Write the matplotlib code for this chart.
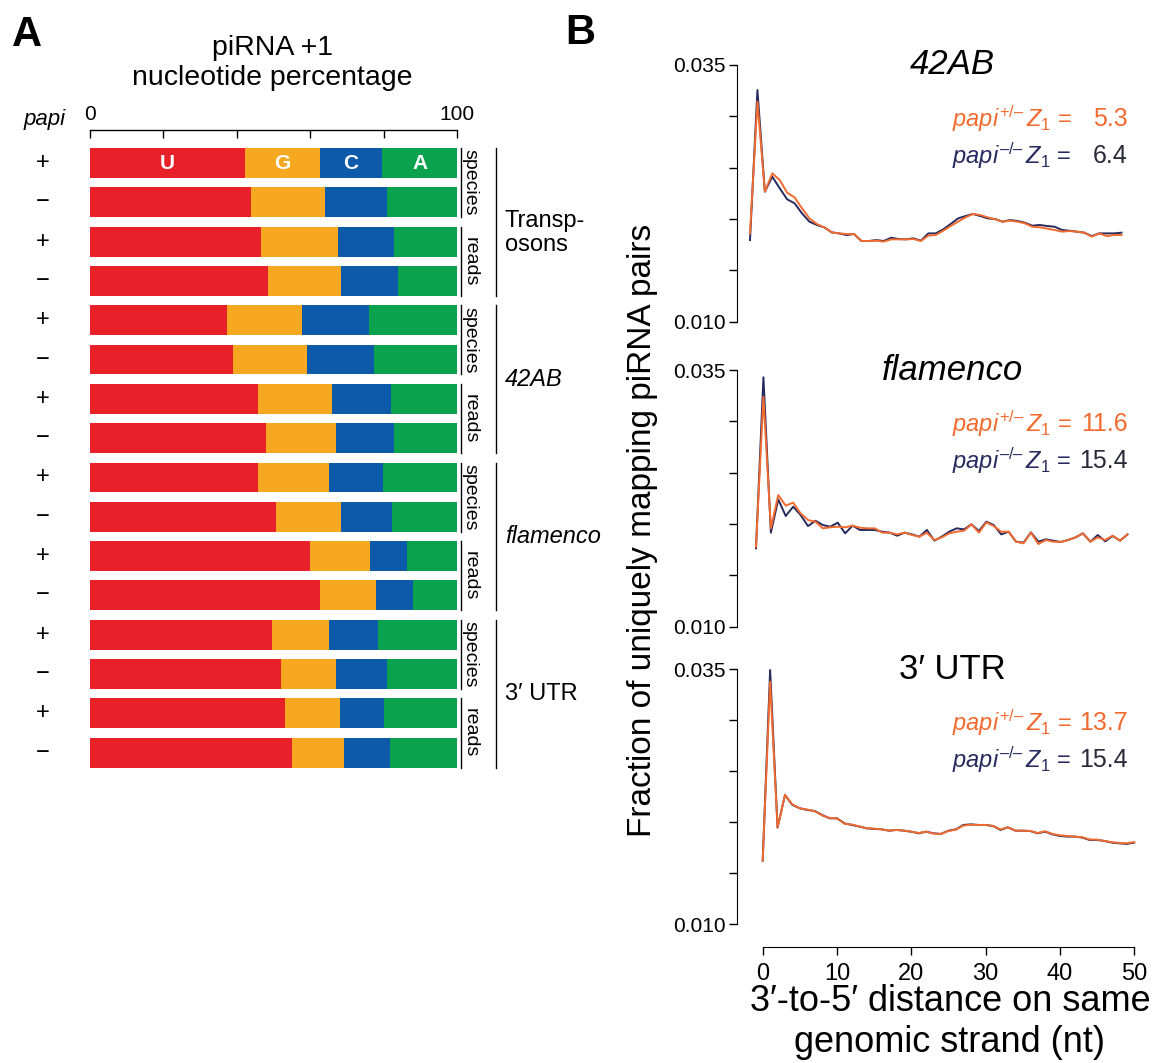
import matplotlib
matplotlib.use("Agg")
import matplotlib.pyplot as plt
import numpy as np

plt.rcParams['font.family'] = ['Liberation Sans', 'DejaVu Sans']
plt.rcParams['mathtext.fontset'] = 'custom'
plt.rcParams['mathtext.rm'] = 'Liberation Sans'
plt.rcParams['mathtext.it'] = 'Liberation Sans:italic'
NARROW = ['Liberation Sans Narrow', 'DejaVu Sans Condensed', 'Liberation Sans']

# ---- panel A data: piRNA +1 nucleotide percentage (U, G, C, A) ----
genotype = ['+', '−'] * 8
read_kind = ['species', 'reads'] * 4
groups = ['Transp-\nosons', '42AB', 'flamenco', '3′ UTR']
group_italic = [False, True, True, False]
u_pct = [42.3, 44.0, 46.6, 48.6, 37.4, 39.1, 45.8, 47.9, 45.8, 50.8, 59.9, 62.7, 49.7, 52.1, 53.1, 55.0]
g_pct = [20.4, 20.1, 20.9, 19.7, 20.4, 20.1, 20.1, 19.0, 19.2, 17.6, 16.4, 15.3, 15.5, 14.9, 15.0, 14.1]
c_pct = [16.9, 16.9, 15.2, 15.7, 18.1, 18.3, 16.0, 16.0, 14.8, 13.8, 10.1, 10.0, 13.2, 13.8, 11.9, 12.6]
a_pct = [20.4, 19.0, 17.3, 16.0, 24.1, 22.5, 18.1, 17.1, 20.2, 17.8, 13.6, 12.0, 21.6, 19.2, 20.0, 18.3]
nuc_labels = ['U', 'G', 'C', 'A']
nuc_colors = ['#e8202a', '#f6a821', '#0c5aa9', '#0aa24c']

# ---- panel B data: fraction of uniquely mapping piRNA pairs vs distance ----
distance = list(range(0, 51))
ab42_het = [0.0186, 0.03143, 0.02266, 0.02445, 0.0238, 0.02256, 0.02211, 0.02104, 0.02006, 0.01951,
            0.01919, 0.0187, 0.0186, 0.01854, 0.01854, 0.01786, 0.01786, 0.01789, 0.0178, 0.01802,
            0.01802, 0.01802, 0.01805, 0.01786, 0.01838, 0.01844, 0.01886, 0.01932, 0.01974, 0.02016,
            0.02049, 0.02039, 0.02016, 0.01997, 0.01974, 0.01984, 0.01974, 0.01958, 0.01925, 0.01919,
            0.01906, 0.01893, 0.01877, 0.01883, 0.01877, 0.01867, 0.01828, 0.0186, 0.01834, 0.01844, 0.01844]
ab42_mut = [0.01795, 0.03256, 0.02266, 0.02412, 0.02299, 0.02192, 0.02153, 0.02055, 0.01974, 0.01942,
            0.01919, 0.0187, 0.0186, 0.01844, 0.01854, 0.01786, 0.01786, 0.01795, 0.01786, 0.01818,
            0.01805, 0.01802, 0.01812, 0.01789, 0.0186, 0.0186, 0.01899, 0.01951, 0.02006, 0.02029,
            0.02049, 0.02029, 0.02006, 0.0200, 0.01974, 0.0199, 0.01981, 0.01964, 0.01935, 0.01942,
            0.01932, 0.01925, 0.01893, 0.01886, 0.01877, 0.01867, 0.01834, 0.0186, 0.0186, 0.0186, 0.01867]
flam_het = [0.0178, 0.0324, 0.01958, 0.02282, 0.02179, 0.02208, 0.02104, 0.02039, 0.02023, 0.01958,
            0.01968, 0.01974, 0.01968, 0.01984, 0.01964, 0.01958, 0.01958, 0.01916, 0.01916, 0.01899,
            0.01916, 0.01893, 0.01877, 0.01916, 0.01844, 0.0187, 0.01909, 0.01925, 0.01935, 0.01997,
            0.01916, 0.02016, 0.0198, 0.01925, 0.01925, 0.01828, 0.01812, 0.01916, 0.01805, 0.01844,
            0.01828, 0.01825, 0.01844, 0.0187, 0.01909, 0.01828, 0.0187, 0.01844, 0.01886, 0.01838, 0.01899]
flam_mut = [0.01763, 0.03429, 0.01916, 0.0224, 0.02078, 0.02169, 0.02088, 0.0198, 0.02032, 0.0199,
            0.01974, 0.02013, 0.01909, 0.01984, 0.01942, 0.01942, 0.01942, 0.01925, 0.01916, 0.01886,
            0.01916, 0.01899, 0.01877, 0.01942, 0.01838, 0.01877, 0.01925, 0.01958, 0.01948, 0.01997,
            0.01932, 0.02023, 0.0199, 0.01899, 0.01925, 0.01828, 0.01818, 0.01919, 0.01828, 0.01851,
            0.01838, 0.01825, 0.01844, 0.0187, 0.01909, 0.01828, 0.01893, 0.01831, 0.01883, 0.01838, 0.01899]
utr_het = [0.01624, 0.03379, 0.01948, 0.02268, 0.02175, 0.02137, 0.02125, 0.02108, 0.02068, 0.02042,
           0.02039, 0.01985, 0.01978, 0.0196, 0.01941, 0.01938, 0.01931, 0.01918, 0.01925, 0.01918,
           0.01908, 0.01895, 0.01908, 0.01889, 0.01886, 0.01915, 0.01928, 0.01968, 0.01976, 0.01974,
           0.01974, 0.01964, 0.0193, 0.01951, 0.01918, 0.01918, 0.01915, 0.01895, 0.01912, 0.01886,
           0.01872, 0.01866, 0.0186, 0.01853, 0.01832, 0.0183, 0.01817, 0.01805, 0.01798, 0.01795, 0.01806]
utr_mut = [0.01624, 0.03493, 0.01948, 0.02268, 0.0217, 0.02137, 0.02121, 0.02111, 0.02072, 0.02039,
           0.02039, 0.0199, 0.01974, 0.01958, 0.01941, 0.01935, 0.01931, 0.01918, 0.01925, 0.01918,
           0.01908, 0.01892, 0.01908, 0.01892, 0.01886, 0.01918, 0.01931, 0.01974, 0.0198, 0.01974,
           0.01974, 0.01964, 0.01925, 0.01951, 0.01918, 0.01918, 0.01915, 0.01892, 0.01908, 0.01882,
           0.01866, 0.0186, 0.0186, 0.0185, 0.01827, 0.01827, 0.01817, 0.01801, 0.01794, 0.01788, 0.01801]
panel_titles = ['42AB', 'flamenco', '3′ UTR']
title_italic = [True, True, False]
z_het = ['5.3', '11.6', '13.7']
z_mut = ['6.4', '15.4', '15.4']

HET_COLOR = '#f26a2e'
MUT_COLOR = '#262a5e'

W, H = 1167, 1063
fig = plt.figure(figsize=(W / 100, H / 100), dpi=100)


def rect(l, t, r, b):
    return [l / W, 1 - b / H, (r - l) / W, (b - t) / H]


# ================= panel A =================
axA = fig.add_axes(rect(90, 130, 457, 775))
rows = np.arange(len(u_pct))
left = np.zeros(len(rows))
for vals, col, lab in zip([u_pct, g_pct, c_pct, a_pct], nuc_colors, nuc_labels):
    vals = np.array(vals)
    axA.barh(rows, vals, left=left, height=0.76, color=col, linewidth=0)
    axA.text(left[0] + vals[0] / 2, 0, lab, color='white', fontsize=15, fontweight='bold',
             ha='center', va='center')
    left = left + vals

axA.set_xlim(0, 100)
axA.set_ylim(15.57, -0.84)
for s in ['left', 'right', 'bottom']:
    axA.spines[s].set_visible(False)
axA.spines['top'].set_linewidth(1.0)
axA.xaxis.tick_top()
axA.set_xticks([0, 20, 40, 60, 80, 100])
axA.set_xticklabels(['0', '', '', '', '', '100'], fontfamily=NARROW, fontsize=15)
axA.tick_params(axis='x', direction='in', length=6, width=1, pad=4)
axA.set_yticks([])

axA.text(-12.3, -1.1, 'papi', fontsize=16, style='italic', ha='center', va='center', clip_on=False)
for r, g in zip(rows, genotype):
    axA.text(-12.8, r, g, fontsize=17, ha='center', va='center', clip_on=False)

half = 0.38
for k, kind in enumerate(read_kind):
    r0, r1 = 2 * k, 2 * k + 1
    axA.plot([101.2, 101.2], [r0 - half, r1 + half], color='black', lw=1.0, clip_on=False)
    axA.text(103.6, (r0 + r1) / 2, kind, rotation=270, fontsize=14, ha='center', va='center',
             clip_on=False)
for gi, (name, it) in enumerate(zip(groups, group_italic)):
    r0, r1 = 4 * gi, 4 * gi + 3
    axA.plot([110.7, 110.7], [r0 - half, r1 + half], color='black', lw=1.0, clip_on=False)
    yc = (r0 + r1) / 2 + (0.28 if '\n' in name else 0)
    axA.text(113.0, yc, name, fontsize=17, style='italic' if it else 'normal',
             ha='left', va='center', clip_on=False, linespacing=1.15)

fig.text(272 / W, 1 - 63 / H, 'piRNA +1\nnucleotide percentage', fontsize=20.5,
         ha='center', va='center', linespacing=1.2)
fig.text(12 / W, 1 - 35 / H, 'A', fontsize=30, fontweight='bold', ha='left', va='center')
fig.text(565 / W, 1 - 33 / H, 'B', fontsize=30, fontweight='bold', ha='left', va='center')

# ================= panel B =================
tops = [65, 370, 669.3]
bottoms = [321.7, 626.7, 924.3]
zero_px = [750, 756, 762.7]   # where distance 0 sits in each sub-panel
px_per_nt = 7.43
series = [(ab42_het, ab42_mut), (flam_het, flam_mut), (utr_het, utr_mut)]

for i in range(3):
    ax = fig.add_axes(rect(737, tops[i], 1140, bottoms[i]))
    het, mut = series[i]
    ax.plot(distance, mut, color=MUT_COLOR, lw=1.4, clip_on=False)
    ax.plot(distance, het, color=HET_COLOR, lw=1.4, clip_on=False)
    ax.set_xlim(-(zero_px[i] - 737) / px_per_nt, (1140 - zero_px[i]) / px_per_nt)
    ax.set_ylim(0.010, 0.035)
    ax.spines['top'].set_visible(False)
    ax.spines['right'].set_visible(False)
    ax.spines['left'].set_bounds(0.010, 0.035)
    ax.set_yticks(np.linspace(0.010, 0.035, 6))
    ax.set_yticklabels(['0.010', '', '', '', '', '0.035'], fontfamily=NARROW, fontsize=15)
    ax.tick_params(axis='y', direction='out', length=6, width=1, pad=2)
    if i < 2:
        ax.spines['bottom'].set_visible(False)
        ax.set_xticks([])
    else:
        ax.spines['bottom'].set_position(('outward', 16))
        ax.spines['bottom'].set_bounds(0, 50)
        ax.set_xticks([0, 10, 20, 30, 40, 50])
        ax.set_xticklabels(['0', '10', '20', '30', '40', '50'], fontfamily=NARROW, fontsize=17)
        ax.tick_params(axis='x', direction='out', length=6, width=1, pad=6)

    ax.text(0.535, 1.0, panel_titles[i], transform=ax.transAxes, fontsize=25,
            style='italic' if title_italic[i] else 'normal', ha='center', va='center')
    ax.text(0.83, 0.79, r'$\mathit{papi}^{\mathrm{+/–}}\,Z_1$ =', transform=ax.transAxes,
            color=HET_COLOR, fontsize=17, ha='right', va='center')
    ax.text(0.97, 0.79, z_het[i], transform=ax.transAxes, color=HET_COLOR, fontsize=18,
            ha='right', va='center')
    ax.text(0.83, 0.645, r'$\mathit{papi}^{\mathrm{–/–}}\,Z_1$ =', transform=ax.transAxes,
            color=MUT_COLOR, fontsize=17, ha='right', va='center')
    ax.text(0.97, 0.645, z_mut[i], transform=ax.transAxes, color='#2a2a3a', fontsize=18,
            ha='right', va='center')

fig.text(642 / W, 1 - 530 / H, 'Fraction of uniquely mapping piRNA pairs', rotation=90,
         fontsize=24, ha='center', va='center')
fig.text(950 / W, 1 - 1022 / H, '3′-to-5′ distance on same\ngenomic strand (nt)',
         fontsize=26, ha='center', va='center', linespacing=1.2)

fig.savefig('out.png', dpi=100)
